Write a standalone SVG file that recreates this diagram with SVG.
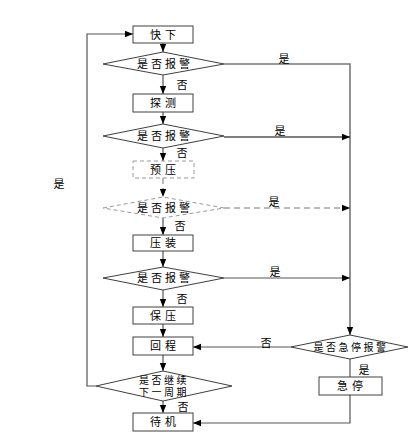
<svg xmlns="http://www.w3.org/2000/svg" width="414" height="434" viewBox="0 0 414 434">
<defs>
<marker id="ah" viewBox="0 0 10 10" refX="10" refY="5" markerWidth="8" markerHeight="8" markerUnits="userSpaceOnUse" orient="auto"><path d="M0,1 L10,5 L0,9 z" fill="#000"/></marker>
<style>
.box{fill:#fff;stroke:#404040;stroke-width:1}
.dbox{fill:#fff;stroke:#999;stroke-width:1;stroke-dasharray:4,3}
.t{font-family:"Noto Sans CJK SC","Liberation Sans",sans-serif;font-size:11px;fill:#000;text-anchor:middle;letter-spacing:4px}
.td{font-family:"Noto Sans CJK SC","Liberation Sans",sans-serif;font-size:11px;fill:#000;text-anchor:middle;letter-spacing:3px}
.ts{font-family:"Noto Sans CJK SC","Liberation Sans",sans-serif;font-size:10px;fill:#000;text-anchor:middle;letter-spacing:2.5px}
.l{font-family:"Noto Sans CJK SC","Liberation Sans",sans-serif;font-size:11px;fill:#000;text-anchor:middle}
.c{fill:none;stroke:#555;stroke-width:1.2}
.cd{fill:none;stroke:#777;stroke-width:1;stroke-dasharray:6,4}
</style>
</defs>
<rect width="414" height="434" fill="#fff"/>
<g id="connectors">
<path class="c" d="M163,43 V52" marker-end="url(#ah)"/>
<path class="c" d="M163,75 V94" marker-end="url(#ah)"/>
<path class="c" d="M163,112 V124" marker-end="url(#ah)"/>
<path class="c" d="M163,148 V161" marker-end="url(#ah)"/>
<path class="cd" d="M163,178 V197" marker-end="url(#ah)"/>
<path class="c" d="M163,218 V235" marker-end="url(#ah)"/>
<path class="c" d="M163,251 V267" marker-end="url(#ah)"/>
<path class="c" d="M163,290 V307" marker-end="url(#ah)"/>
<path class="c" d="M163,324 V337" marker-end="url(#ah)"/>
<path class="c" d="M163,355 V371" marker-end="url(#ah)"/>
<path class="c" d="M163,401 V413" marker-end="url(#ah)"/>
<path class="c" d="M96,386 H87 V34 H133" marker-end="url(#ah)"/>
<path d="M224,64 H350 V335" fill="none" stroke="#777" stroke-width="1.6" marker-end="url(#ah)"/>
<path d="M224,137 H350" fill="none" stroke="#000" stroke-width="1" marker-end="url(#ah)"/>
<path class="cd" d="M224,208 H350" marker-end="url(#ah)"/>
<path d="M224,278 H350" fill="none" stroke="#555" stroke-width="1" marker-end="url(#ah)"/>
<path class="c" d="M291,347 H193" marker-end="url(#ah)"/>
<path class="c" d="M350,359 V377"/>
<path class="c" d="M350,395 V423 H193" marker-end="url(#ah)"/>
<text class="l" x="182" y="89">否</text>
<text class="l" x="182" y="157">否</text>
<text class="l" x="180" y="230">否</text>
<text class="l" x="182" y="303">否</text>
<text class="l" x="183" y="411">否</text>
<text class="l" x="284" y="63">是</text>
<text class="l" x="280" y="135">是</text>
<text class="l" x="274" y="206">是</text>
<text class="l" x="275" y="276">是</text>
<text class="l" x="266" y="347">否</text>
<text class="l" x="364" y="374">是</text>
<text class="l" x="59" y="188">是</text>
</g>
<g id="kuaixia"><rect class="box" x="133" y="26" width="60" height="17"/><text class="t" x="165" y="39">快下</text></g>
<g id="d1"><polygon class="box" points="103,64 163,52 224,64 163,75"/><text class="td" x="165" y="68">是否报警</text></g>
<g id="tance"><rect class="box" x="133" y="94" width="60" height="18"/><text class="t" x="165" y="107">探测</text></g>
<g id="d2"><polygon class="box" points="103,136 163,124 224,136 163,148"/><text class="td" x="165" y="140">是否报警</text></g>
<g id="yuya"><rect class="dbox" x="133" y="161" width="61" height="17"/><text class="t" x="165" y="174">预压</text></g>
<g id="d3"><polygon class="dbox" points="103,208 163,197 224,208 163,218"/><text class="td" x="165" y="212">是否报警</text></g>
<g id="yazhuang"><rect class="box" x="133" y="235" width="60" height="16"/><text class="t" x="165" y="247">压装</text></g>
<g id="d4"><polygon class="box" points="103,278 163,267 224,278 163,290"/><text class="td" x="165" y="282">是否报警</text></g>
<g id="baoya"><rect class="box" x="133" y="307" width="60" height="17"/><text class="t" x="165" y="320">保压</text></g>
<g id="huicheng"><rect class="box" x="133" y="337" width="60" height="18"/><text class="t" x="165" y="350">回程</text></g>
<g id="d5"><polygon class="box" points="96,386 163,371 232,386 163,401"/><text class="ts" x="164" y="384">是否继续</text><text class="ts" x="164" y="395.5">下一周期</text></g>
<g id="daiji"><rect class="box" x="133" y="413" width="60" height="18"/><text class="t" x="165" y="426">待机</text></g>
<g id="d6"><polygon class="box" points="291,347 350,335 408,347 350,359"/><text class="ts" x="351" y="351">是否急停报警</text></g>
<g id="jiting"><rect class="box" x="319" y="377" width="63" height="18"/><text class="t" x="352" y="390">急停</text></g>
</svg>
